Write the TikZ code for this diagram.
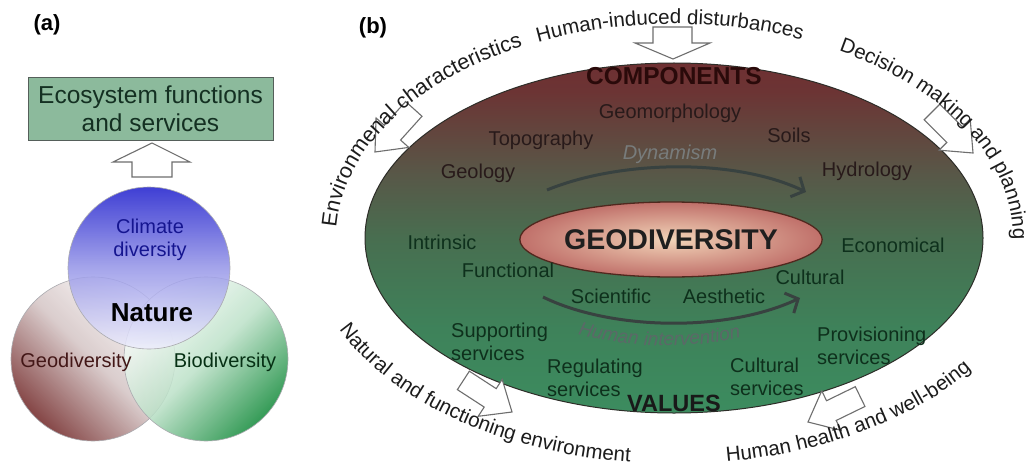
\documentclass[tikz,border=0pt]{standalone}
\usepackage{fontspec}
\setmainfont{Liberation Sans}
\usetikzlibrary{decorations.text,arrows.meta,calc,shapes.geometric}
\definecolor{boxgreen}{RGB}{140,186,156}
\definecolor{boxborder}{RGB}{85,95,90}
\definecolor{boxtext}{RGB}{20,48,34}
\definecolor{climtop}{RGB}{30,30,205}
\definecolor{climmid}{RGB}{150,150,232}
\definecolor{climbot}{RGB}{238,238,252}
\definecolor{geodark}{RGB}{112,38,38}
\definecolor{geomid}{RGB}{212,196,196}
\definecolor{biodark}{RGB}{18,138,58}
\definecolor{biomid}{RGB}{188,225,200}
\definecolor{circgray}{RGB}{170,170,175}
\definecolor{ea}{RGB}{60,140,95}
\definecolor{eb}{RGB}{62,130,90}
\definecolor{ec}{RGB}{72,110,80}
\definecolor{ed}{RGB}{88,88,72}
\definecolor{ee}{RGB}{108,52,52}
\definecolor{ef}{RGB}{110,48,50}
\definecolor{ellborder}{RGB}{45,45,40}
\definecolor{geoin}{RGB}{242,212,184}
\definecolor{geoout}{RGB}{192,112,106}
\definecolor{geoborder}{RGB}{80,40,30}
\definecolor{uppercol}{RGB}{40,26,26}
\definecolor{lowercol}{RGB}{14,48,28}
\definecolor{compcol}{RGB}{42,10,10}
\definecolor{arcgray}{RGB}{56,66,64}
\definecolor{dyngray}{RGB}{120,124,124}
\definecolor{hiteal}{RGB}{92,104,104}
\definecolor{arrowgray}{RGB}{110,110,110}
\definecolor{outtext}{RGB}{28,28,28}
\pgfdeclareverticalshading{bigell}{100bp}{color(0bp)=(ea); color(25bp)=(ea); color(37bp)=(eb); color(50bp)=(ec); color(59bp)=(ed); color(71bp)=(ee); color(75bp)=(ef); color(100bp)=(ef)}
\newcommand\otf{\fontsize{20.5}{21}\selectfont}
\newcommand\obarrow[3]{\begin{scope}[shift={(#1,#2)},rotate=#3]\draw[hollow] (0,0) -- (22,-26) -- (11,-26) -- (11,-58) -- (-11,-58) -- (-11,-26) -- (-22,-26) -- cycle;\end{scope}}
\begin{document}
\begin{tikzpicture}[x=1pt,y=-1pt,
  lab/.style={font=\fontsize{20}{22.5}\selectfont, inner sep=0pt, align=left},
  uplab/.style={lab, text=uppercol},
  lolab/.style={lab, text=lowercol},
  hollow/.style={draw=arrowgray, fill=white, line width=1.1pt, line join=miter},
  flowarc/.style={draw=arcgray, line width=3pt, -{Straight Barb[length=10pt,width=22pt]}},
  curvetext/.style={decorate, decoration={text along path, text align=center, text color=outtext}},
  circ/.style={draw=circgray, line width=.6pt, fill opacity=.85},
]
\fill[white] (0,0) rectangle (1035,468);
\useasboundingbox (0,0) rectangle (1035,468);

% ---------------- panel (a)
\node[font=\fontsize{22}{24}\selectfont\bfseries, inner sep=0pt] (tagA) at (47,25) {(a)};
\node[draw=boxborder, line width=1pt, fill=boxgreen, minimum width=245pt, minimum height=62pt,
      align=center, inner sep=0pt, text=boxtext, font=\fontsize{24.5}{28}\selectfont] (eco) at (150.5,109) {Ecosystem functions\\and services};
\draw[hollow] (152,143) -- (190,162) -- (172,162) -- (172,177) -- (132,177) -- (132,162) -- (113,162) -- cycle;

\shadedraw[circ, top color=white, bottom color=geodark, middle color=geomid, shading angle=-45] (93,359) circle[radius=82];
\shadedraw[circ, top color=white, bottom color=biodark, middle color=biomid, shading angle=45] (206,359) circle[radius=82];
\shadedraw[circ, top color=climtop, bottom color=climbot, middle color=climmid] (149,268) circle[radius=81];

\node[lab, text=climtop!70!black, align=center, font=\fontsize{20}{23}\selectfont] (clim) at (150,240) {Climate\\diversity};
\node[lab, font=\fontsize{26}{28}\selectfont\bfseries] (nature) at (152,313) {Nature};
\node[lab, text=geodark!60!black] (geodiv) at (76,362) {Geodiversity};
\node[lab, text=biodark!35!black] (biodiv) at (225,362) {Biodiversity};

% ---------------- panel (b)
\node[font=\fontsize{22}{24}\selectfont\bfseries, inner sep=0pt] (tagB) at (373,28) {(b)};

\node[ellipse, draw=ellborder, line width=1pt, minimum width=618pt, minimum height=350pt, inner sep=0pt,
      shade, shading=bigell] (big) at (674,238) {};

\node[ellipse, draw=geoborder, line width=1.3pt, minimum width=238pt, minimum height=75pt, inner sep=0pt,
      inner color=geoin, outer color=geoout, text=black!88,
      font=\fontsize{28.5}{30}\selectfont\bfseries] (gd) at (671,239.5) {GEODIVERSITY};

\node[inner sep=0pt, text=compcol, font=\fontsize{24.5}{26}\selectfont\bfseries] (comp) at (674,76) {COMPONENTS};
\node[inner sep=0pt, text=black!90, font=\fontsize{23.5}{25}\selectfont\bfseries] (val) at (674,403) {VALUES};

\node[uplab] (geomorph) at (670,113) {Geomorphology};
\node[uplab] (topo) at (541,140) {Topography};
\node[uplab] (soils) at (789,135) {Soils};
\node[uplab] (geol) at (478,173) {Geology};
\node[uplab] (hydro) at (867,171) {Hydrology};
\node[lab, text=dyngray, font=\fontsize{20}{22}\selectfont\itshape] (dyn) at (670,154) {Dynamism};

\node[lolab] (intr) at (442,242) {Intrinsic};
\node[lolab] (econ) at (893,245) {Economical};
\node[lolab] (func) at (508,270) {Functional};
\node[lolab] (cult) at (810,277) {Cultural};
\node[lolab] (sci) at (611,296) {Scientific};
\node[lolab] (aes) at (724,296) {Aesthetic};
\node[lolab, anchor=west] (supp) at (451,342) {Supporting\\services};
\node[lolab, anchor=west] (reg) at (547,378) {Regulating\\services};
\node[lolab, anchor=west] (cserv) at (730,377) {Cultural\\services};
\node[lolab, anchor=west] (prov) at (817,346) {Provisioning\\services};

\coordinate (dynS) at (547,190);
\coordinate (dynE) at (806,192);
\draw[flowarc] (dynS) .. controls (620,160) and (735,158) .. (dynE);
\coordinate (hiS) at (543,297);
\coordinate (hiE) at (800,298);
\draw[flowarc] (hiS) .. controls (610,330) and (725,333) .. (hiE);
\path[decorate, decoration={text along path, text align=center, text color=hiteal,
      text={|\fontsize{19}{20}\selectfont\itshape|Human intervention}}]
      (577,334) .. controls (625,348) and (690,350) .. (742,337);

% block arrows
\draw[hollow] (673,59) -- (710,43) -- (692,43) -- (692,27) -- (653,27) -- (653,43) -- (635,43) -- cycle;
\obarrow{375}{152}{-42}
\obarrow{973}{153}{45}
\obarrow{512}{412}{57}
\obarrow{808}{422}{-64}

% curved texts
\path[curvetext, decoration={text={|\fontsize{21.5}{22}\selectfont|Environmenal characteristics}}]
  ($(674,238)+(180.5:338 and 214)$) arc[start angle=180.5, end angle=245, x radius=338, y radius=214];
\path[curvetext, decoration={text={|\otf|Human-induced disturbances}}]
  ($(674,238)+(245.5:338 and 214)$) arc[start angle=245.5, end angle=293, x radius=338, y radius=214];
\path[curvetext, decoration={text={|\otf|Decision making and planning}}]
  ($(674,238)+(300:339 and 214)$) arc[start angle=300, end angle=359, x radius=339, y radius=214];
\path[curvetext, decoration={text={|\otf|Natural and functioning environment}}]
  ($(674,238)+(156:366 and 226)$) arc[start angle=156, end angle=97, x radius=366, y radius=226];
\path[curvetext, decoration={text={|\otf|Human health and well-being}}]
  ($(674,238)+(83:366 and 226)$) arc[start angle=83, end angle=34, x radius=366, y radius=226];
\end{tikzpicture}
\end{document}
